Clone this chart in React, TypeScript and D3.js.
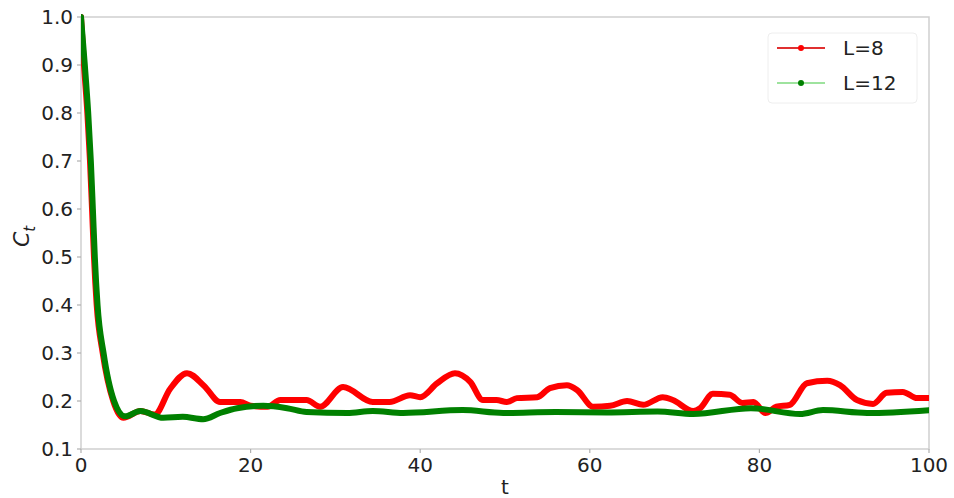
import React, { useMemo } from "react";
import * as d3 from "d3";

const WIDTH = 954;
const HEIGHT = 498;

const xTicks = [0, 20, 40, 60, 80, 100];
const yTicks = [0.1, 0.2, 0.3, 0.4, 0.5, 0.6, 0.7, 0.8, 0.9, 1.0];

// L=8
const tL8 = [
  0, 0.35, 0.75, 1.06, 1.3, 1.53, 1.85, 2.56, 3.8, 5.0, 7.0, 8.7, 10.5, 12.5, 14.5, 16.4, 18.8,
  20, 22, 23.5, 26.6, 28.2, 30.9, 34.4, 36.4, 38.8, 40, 42, 44.1, 45.9, 47.4, 49, 50.2, 51.4,
  53.8, 55.3, 57.3, 58.5, 60.4, 62.4, 64.4, 66.3, 68.6, 69.8, 72.2, 73, 74.5, 76.5, 78, 79.3,
  80.7, 82, 83.6, 85.6, 88, 89.5, 91.5, 93.4, 95, 96.9, 98.6, 100,
];
const cL8 = [
  1.0, 0.9, 0.8, 0.7, 0.6, 0.5, 0.4, 0.3, 0.2, 0.165, 0.179, 0.172, 0.225, 0.258, 0.232, 0.198,
  0.198, 0.19, 0.188, 0.202, 0.202, 0.188, 0.229, 0.198, 0.198, 0.212, 0.208, 0.237, 0.258,
  0.24, 0.202, 0.202, 0.198, 0.206, 0.208, 0.227, 0.233, 0.223, 0.188, 0.19, 0.2, 0.192, 0.208,
  0.202, 0.179, 0.185, 0.215, 0.213, 0.196, 0.198, 0.175, 0.188, 0.192, 0.237, 0.242, 0.233,
  0.202, 0.194, 0.217, 0.219, 0.206, 0.206,
];

// L=12
const tL12 = [
  0, 0.45, 0.85, 1.16, 1.4, 1.63, 1.95, 2.66, 3.9, 5.2, 7.0, 9.7, 12, 14.4, 16.4, 18.4, 21.5,
  24.3, 26.6, 31.4, 34.4, 38, 45, 49.8, 56, 62, 68, 72.2, 79, 84.8, 87.5, 92.7, 100,
];
const cL12 = [
  1.0, 0.9, 0.8, 0.7, 0.6, 0.5, 0.4, 0.3, 0.2, 0.168, 0.179, 0.165, 0.167, 0.162, 0.175, 0.185,
  0.19, 0.185, 0.177, 0.175, 0.179, 0.175, 0.181, 0.175, 0.177, 0.176, 0.178, 0.173, 0.185,
  0.173, 0.181, 0.175, 0.181,
];

const series = [
  { name: "L=8", t: tL8, c: cL8, color: "#ff0000", legendLine: "#e03030" },
  { name: "L=12", t: tL12, c: cL12, color: "#008000", legendLine: "#9ee39e" },
];

const MARGIN = { left: 81, right: 25, top: 17, bottom: 49 };

export default function App() {
  const innerW = WIDTH - MARGIN.left - MARGIN.right;
  const innerH = HEIGHT - MARGIN.top - MARGIN.bottom;

  const xScale = useMemo(() => d3.scaleLinear().domain([0, 100]).range([0, innerW]), [innerW]);
  const yScale = useMemo(() => d3.scaleLinear().domain([0.1, 1.0]).range([innerH, 0]), [innerH]);

  const lineGen = d3
    .line<[number, number]>()
    .x((d) => xScale(d[0]))
    .y((d) => yScale(d[1]))
    .curve(d3.curveMonotoneX);

  const font = "DejaVu Sans, sans-serif";

  return (
    <svg width={WIDTH} height={HEIGHT} style={{ position: "absolute", left: 0, top: 0, background: "#fff" }}>
      <defs>
        <clipPath id="plot">
          <rect x={0} y={-4} width={innerW} height={innerH + 8} />
        </clipPath>
      </defs>
      <g transform={`translate(${MARGIN.left},${MARGIN.top})`}>
        <rect x={0} y={0} width={innerW} height={innerH} fill="none" stroke="#cfcfcf" strokeWidth={1.5} />

        {xTicks.map((t) => (
          <g key={t} transform={`translate(${xScale(t)},${innerH})`}>
            <line y2={4} stroke="#b0b0b0" strokeWidth={1.2} />
            <text y={23} textAnchor="middle" fontFamily={font} fontSize={20} fill="#222">
              {t}
            </text>
          </g>
        ))}
        {yTicks.map((v) => (
          <g key={v} transform={`translate(0,${yScale(v)})`}>
            <line x2={-4} stroke="#b0b0b0" strokeWidth={1.2} />
            <text x={-8} dy="0.36em" textAnchor="end" fontFamily={font} fontSize={20} fill="#222">
              {v.toFixed(1)}
            </text>
          </g>
        ))}

        <g clipPath="url(#plot)">
          {series.map((s) => (
            <path
              key={s.name}
              d={lineGen(s.t.map((t, i) => [t, s.c[i]]) as [number, number][]) || ""}
              fill="none"
              stroke={s.color}
              strokeWidth={6}
              strokeLinejoin="round"
              strokeLinecap="round"
            />
          ))}
        </g>

        <text
          x={innerW / 2}
          y={innerH + 45}
          textAnchor="middle"
          fontFamily={font}
          fontSize={20}
          fill="#222"
        >
          t
        </text>
        <text
          transform={`translate(${-52},${innerH / 2 + 14}) rotate(-90)`}
          fontFamily={font}
          fontSize={22}
          fill="#222"
        >
          <tspan fontStyle="italic">C</tspan>
          <tspan fontStyle="italic" fontSize={15} dy={6}>
            t
          </tspan>
        </text>
      </g>

      <g transform="translate(768,33)">
        <rect x={0} y={0} width={149} height={70} rx={4} fill="#fff" stroke="#eeeeee" strokeWidth={1} />
        {series.map((s, i) => (
          <g key={s.name} transform={`translate(0,${15 + i * 35})`}>
            <line x1={9} x2={57} stroke={s.legendLine} strokeWidth={2} />
            <circle cx={33} cy={0} r={3} fill={s.color} />
            <text x={75} dy="0.36em" fontFamily={font} fontSize={20} fill="#222">
              {s.name}
            </text>
          </g>
        ))}
      </g>
    </svg>
  );
}
